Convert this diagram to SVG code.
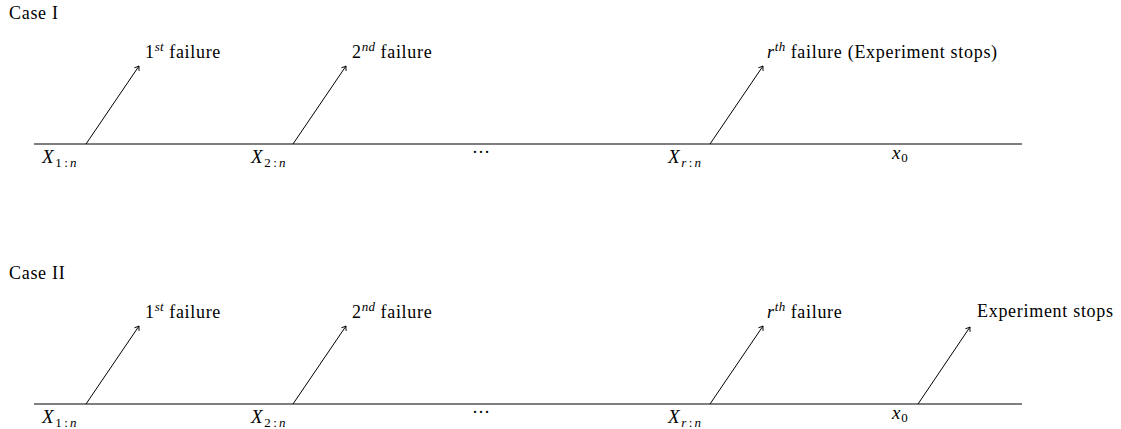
<svg xmlns="http://www.w3.org/2000/svg" width="1121" height="429" viewBox="0 0 1121 429">
<style>
text{font-family:"Liberation Serif","Times New Roman",serif;font-size:18px;letter-spacing:0.7px;fill:#000}
.m{font-style:italic}
.X{font-style:italic;font-size:19px}
.s{font-size:13px;letter-spacing:0.3px}
.axis{stroke:#555;stroke-width:1.6;fill:none}
.arr{stroke:#000;stroke-width:1;fill:none;marker-end:url(#ah)}
</style>
<defs>
<marker id="ah" markerWidth="10" markerHeight="10" refX="0" refY="0" viewBox="-6 -5 8 10" orient="auto" markerUnits="userSpaceOnUse">
<path d="M-4,-2.8 Q-1.5,-0.8 0,0 Q-1.5,0.8 -4,2.8" stroke="#000" stroke-width="0.9" fill="none"/>
</marker>
</defs>
<text x="9" y="19">Case I</text>
<text x="9" y="279">Case II</text>
<g id="connectors">
<line class="axis" x1="34" y1="144" x2="1022" y2="144"/>
<line class="arr" x1="86" y1="144" x2="139" y2="66"/>
<line class="arr" x1="293" y1="144" x2="346" y2="66"/>
<line class="arr" x1="710" y1="144" x2="763" y2="66"/>
<line class="axis" x1="34" y1="404" x2="1022" y2="404"/>
<line class="arr" x1="86" y1="404" x2="139" y2="326"/>
<line class="arr" x1="293" y1="404" x2="346" y2="326"/>
<line class="arr" x1="710" y1="404" x2="763" y2="326"/>
<line class="arr" x1="918" y1="404" x2="970" y2="327"/>
</g>
<g id="case1-f1"><text x="145" y="58">1<tspan class="m s" dy="-7">st</tspan><tspan dy="7"> failure</tspan></text></g>
<g id="case1-f2"><text x="352" y="58">2<tspan class="m s" dy="-7">nd</tspan><tspan dy="7"> failure</tspan></text></g>
<g id="case1-fr"><text x="767" y="58"><tspan class="m">r</tspan><tspan class="m s" dy="-7">th</tspan><tspan dy="7"> failure (Experiment stops)</tspan></text></g>
<g id="case1-x1"><text x="42" y="163"><tspan class="X">X</tspan><tspan class="s" dy="4" dx="1">1<tspan dx="2">:</tspan><tspan class="m" dx="2">n</tspan></tspan></text></g>
<g id="case1-x2"><text x="251" y="163"><tspan class="X">X</tspan><tspan class="s" dy="4" dx="1">2<tspan dx="2">:</tspan><tspan class="m" dx="2">n</tspan></tspan></text></g>
<g id="case1-dots"><text x="472" y="153" letter-spacing="2">…</text></g>
<g id="case1-xr"><text x="668" y="163"><tspan class="X">X</tspan><tspan class="s" dy="4" dx="1"><tspan class="m">r</tspan><tspan dx="2">:</tspan><tspan class="m" dx="2">n</tspan></tspan></text></g>
<g id="case1-x0"><text x="892" y="159"><tspan class="X">x</tspan><tspan class="s" dy="3">0</tspan></text></g>
<g id="case2-f1"><text x="145" y="318">1<tspan class="m s" dy="-7">st</tspan><tspan dy="7"> failure</tspan></text></g>
<g id="case2-f2"><text x="352" y="318">2<tspan class="m s" dy="-7">nd</tspan><tspan dy="7"> failure</tspan></text></g>
<g id="case2-fr"><text x="767" y="318"><tspan class="m">r</tspan><tspan class="m s" dy="-7">th</tspan><tspan dy="7"> failure</tspan></text></g>
<g id="case2-stop"><text x="977" y="317">Experiment stops</text></g>
<g id="case2-x1"><text x="42" y="423"><tspan class="X">X</tspan><tspan class="s" dy="4" dx="1">1<tspan dx="2">:</tspan><tspan class="m" dx="2">n</tspan></tspan></text></g>
<g id="case2-x2"><text x="251" y="423"><tspan class="X">X</tspan><tspan class="s" dy="4" dx="1">2<tspan dx="2">:</tspan><tspan class="m" dx="2">n</tspan></tspan></text></g>
<g id="case2-dots"><text x="472" y="413" letter-spacing="2">…</text></g>
<g id="case2-xr"><text x="668" y="423"><tspan class="X">X</tspan><tspan class="s" dy="4" dx="1"><tspan class="m">r</tspan><tspan dx="2">:</tspan><tspan class="m" dx="2">n</tspan></tspan></text></g>
<g id="case2-x0"><text x="892" y="419"><tspan class="X">x</tspan><tspan class="s" dy="3">0</tspan></text></g>
</svg>
